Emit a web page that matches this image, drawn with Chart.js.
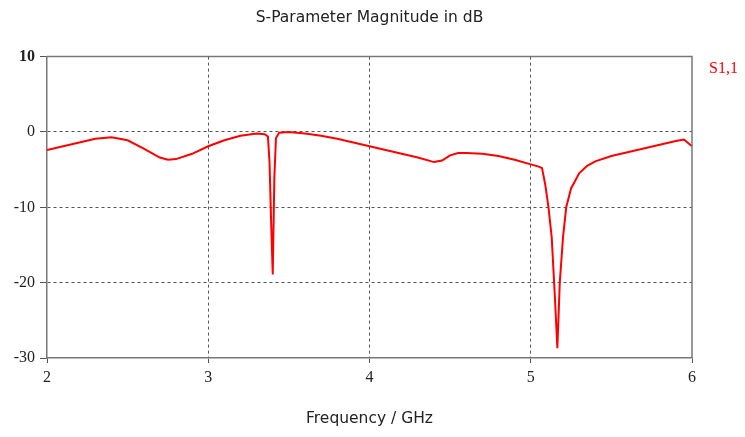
<!DOCTYPE html>
<html>
<head>
<meta charset="utf-8">
<script src="https://cdn.jsdelivr.net/npm/chart.js@4"></script>
<style>
  body { margin: 0; background: #fff; }
  #wrap { width: 745px; height: 437px; }
</style>
</head>
<body>
<div id="wrap"><canvas id="mychart" width="745" height="437"></canvas></div>
<script>
// frequency in GHz, S1,1 in dB
let freq = [2.0, 2.1, 2.2, 2.3, 2.4, 2.5, 2.6, 2.7, 2.75, 2.8, 2.9, 3.0, 3.1, 3.2, 3.3, 3.35, 3.37,
            3.38, 3.39, 3.40, 3.41, 3.42, 3.44, 3.5, 3.6, 3.7, 3.8, 3.9, 4.0, 4.1, 4.2, 4.3, 4.4,
            4.45, 4.5, 4.55, 4.6, 4.7, 4.8, 4.9, 5.0, 5.05, 5.07, 5.09, 5.11, 5.13, 5.15, 5.165,
            5.18, 5.2, 5.22, 5.25, 5.3, 5.35, 5.4, 5.5, 5.6, 5.7, 5.8, 5.9, 5.95, 6.0];
let s11 = [-2.4, -1.9, -1.4, -0.9, -0.7, -1.1, -2.2, -3.4, -3.7, -3.6, -2.9, -1.9, -1.1, -0.5, -0.2, -0.3, -0.6,
           -4, -12, -18.9, -6, -0.8, -0.1, 0, -0.2, -0.5, -0.9, -1.4, -1.9, -2.4, -2.9, -3.4, -4.0,
           -3.8, -3.1, -2.8, -2.8, -2.9, -3.2, -3.7, -4.3, -4.6, -4.8, -7, -10, -14, -22, -28.7,
           -20, -14, -10, -7.5, -5.5, -4.5, -3.9, -3.2, -2.7, -2.2, -1.7, -1.2, -1.0, -1.9];
let xTicks = [2, 3, 4, 5, 6];
let yTicks = [-30, -20, -10, 0, 10];

let points = freq.map((f, i) => ({ x: f, y: s11[i] }));

// no dashed grid line on top of the frame
let innerGrid = (lo, hi) => c => (c.tick && (c.tick.value === lo || c.tick.value === hi)) ? 'rgba(0,0,0,0)' : '#555';

// frame on top/right + series label outside the plot
let framePlugin = {
    id: 'frame',
    afterDraw(chart) {
        let a = chart.chartArea;
        let c = chart.ctx;
        c.save();
        c.strokeStyle = '#777';
        c.lineWidth = 1.5;
        c.beginPath();
        c.moveTo(a.left, a.top);
        c.lineTo(a.right, a.top);
        c.lineTo(a.right, a.bottom);
        c.stroke();
        c.fillStyle = '#ff0000';
        c.font = '16px "Liberation Serif"';
        c.textBaseline = 'middle';
        c.fillText(chart.data.datasets[0].label, a.right + 17, a.top + 12);
        c.restore();
    }
};

let ctx = document.querySelector('#mychart').getContext('2d');
let myChart = new Chart(ctx, {
    type: 'line',
    data: {
        datasets: [{
            label: 'S1,1',
            data: points,
            borderColor: '#ff0000',
            borderWidth: 2,
            pointRadius: 0,
            tension: 0
        }]
    },
    options: {
        responsive: false,
        animation: false,
        layout: { padding: { right: 53 } },
        scales: {
            x: {
                type: 'linear',
                min: 2,
                max: 6,
                afterBuildTicks: s => { s.ticks = xTicks.map(v => ({ value: v })); },
                afterFit: s => { s.height = 79; },
                grid: { color: innerGrid(2, 6), tickColor: '#555', tickLength: 5, tickBorderDash: [] },
                border: { color: '#777', width: 1.5, dash: [3, 3] },
                ticks: { color: '#222', padding: 5, font: { family: 'Liberation Serif', size: 16 } },
                title: {
                    display: true,
                    text: 'Frequency / GHz',
                    color: '#222',
                    padding: { top: 0, bottom: 9 },
                    font: { family: 'DejaVu Sans', size: 15.5 }
                }
            },
            y: {
                min: -30,
                max: 10,
                afterBuildTicks: s => { s.ticks = yTicks.map(v => ({ value: v })); },
                afterFit: s => { s.width = 47; },
                grid: { color: innerGrid(-30, 10), tickColor: '#555', tickLength: 7, tickBorderDash: [] },
                border: { color: '#777', width: 1.5, dash: [3, 3] },
                ticks: {
                    color: '#222',
                    padding: 5,
                    font: c => ({ family: 'Liberation Serif', size: 16, weight: (c.tick && c.tick.value === 10) ? 'bold' : 'normal' })
                }
            }
        },
        plugins: {
            legend: { display: false },
            tooltip: { enabled: false },
            title: {
                display: true,
                fullSize: false,
                text: 'S-Parameter Magnitude in dB',
                color: '#222',
                padding: { top: 9, bottom: 29 },
                font: { family: 'DejaVu Sans', size: 15.5, weight: 'normal' }
            }
        }
    },
    plugins: [framePlugin]
});
</script>
</body>
</html>
